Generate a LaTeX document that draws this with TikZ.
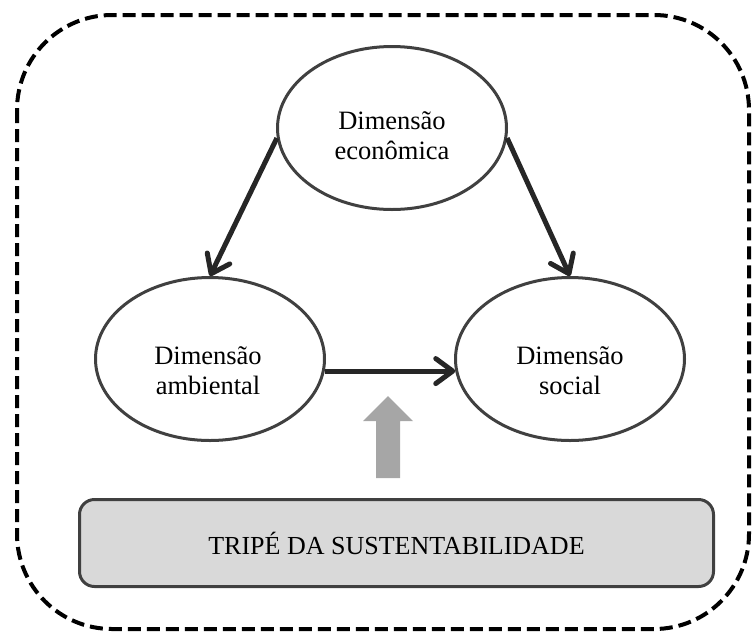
\documentclass[tikz,border=0pt]{standalone}
\usepackage{fontspec}
\setmainfont{Liberation Serif}
\usetikzlibrary{calc,shapes,arrows.meta}
\definecolor{rim}{HTML}{404040}
\definecolor{ink}{HTML}{262626}
\definecolor{boxgray}{HTML}{D9D9D9}
\definecolor{arrowgray}{HTML}{A6A6A6}

\begin{document}
\begin{tikzpicture}[x=1pt,y=-1pt,
        dimension/.style={ellipse,draw=rim,line width=3pt,minimum width=229pt,minimum height=163pt},
        dimtext/.style={align=center,font=\fontsize{26.5}{30}\selectfont},
        flow/.style={draw=ink,line width=5pt,-{Straight Barb[length=17pt,width=25pt,line cap=round,line join=round]}},
        frame/.style={line width=4pt,dash pattern=on 13pt off 6pt,rounded corners=95pt}]
        \useasboundingbox (0,0) rectangle (752,633);
        \draw [frame] (17,15) rectangle (749,629);
        \node [dimension] (eco) at (392,128) {};
        \node [dimension] (amb) at (210,359) {};
        \node [dimension] (soc) at (570,359) {};
        \node [dimtext] (ecotext) at ([yshift=-8pt]eco) {Dimensão\\econômica};
        \node [dimtext] (ambtext) at ([yshift=-12pt,xshift=-2pt]amb) {Dimensão\\ambiental};
        \node [dimtext] (soctext) at ([yshift=-12pt]soc) {Dimensão\\social};
        \draw [flow] (eco.185) -- (amb.north);
        \draw [flow] (eco.-5) -- (soc.north);
        \draw [flow] (amb.-6.5) -- (soc.186.5);
        \node [draw=rim,fill=boxgray,line width=3pt,rounded corners=15pt,minimum width=634pt,minimum height=87pt,
               font=\fontsize{26}{30}\selectfont] (tripe) at (396.5,543) {TRIPÉ DA SUSTENTABILIDADE};
        \fill [arrowgray] (376,478) -- (376,421) -- (363,421) -- (388,396) -- (413,421) -- (400,421) -- (400,478) -- cycle;
\end{tikzpicture}
\end{document}
